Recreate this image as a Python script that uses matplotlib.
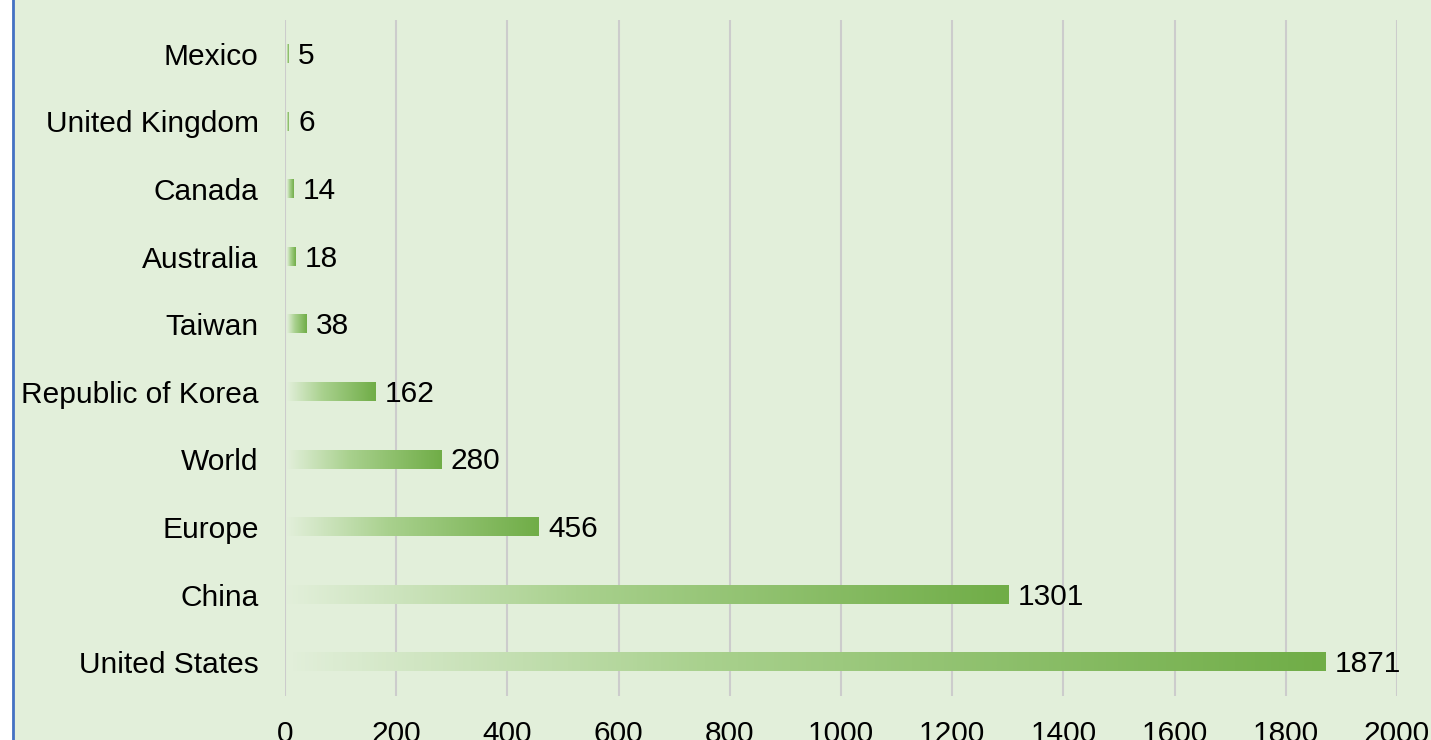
import numpy as np
import matplotlib
matplotlib.use("Agg")
import matplotlib.pyplot as plt
from matplotlib.colors import LinearSegmentedColormap, to_rgb
from matplotlib.patches import Rectangle
from matplotlib.lines import Line2D

countries = ["United States", "China", "Europe", "World", "Republic of Korea",
             "Taiwan", "Australia", "Canada", "United Kingdom", "Mexico"]
values = [1871, 1301, 456, 280, 162, 38, 18, 14, 6, 5]
x_ticks = [0, 200, 400, 600, 800, 1000, 1200, 1400, 1600, 1800, 2000]

bg = "#E2EFDA"
plt.rcParams['font.family'] = ['Liberation Sans', 'DejaVu Sans']
fs = 21.5

fig = plt.figure(figsize=(14.31, 7.40), dpi=100)
fig.patch.set_facecolor(bg)
# white strip and blue edge on the left
fig.patches.append(Rectangle((0, 0), 12 / 1431, 1, transform=fig.transFigure,
                             facecolor="white", edgecolor="none", zorder=-1))
fig.lines.append(Line2D([13 / 1431, 13 / 1431], [0, 1], transform=fig.transFigure,
                        color="#4472C4", lw=2, zorder=5))

ax = fig.add_axes([285 / 1431, 1 - 696 / 740, (1397 - 285) / 1431, (696 - 20) / 740])
ax.set_facecolor("none")

# gradient: transparent -> light green -> excel green
cmap = LinearSegmentedColormap.from_list(
    "grad", [(0, to_rgb(bg)), (0.4, to_rgb("#A9D18E")), (1, to_rgb("#70AD47"))])
grad = np.linspace(0, 1, 256).reshape(1, -1)

y = np.arange(len(countries))
h = 0.27
for yi, v in zip(y, values):
    ax.imshow(grad, cmap=cmap, extent=[3, v, yi - h / 2, yi + h / 2],
              aspect="auto", interpolation="bicubic", zorder=3)
    ax.annotate(str(v), (v, yi), xytext=(7, -1.5), textcoords="offset points",
                va="center", ha="left", fontsize=fs, color="black", zorder=4)

ax.set_xlim(0, 2000)
ax.set_ylim(-0.5, len(countries) - 0.5)
ax.set_xticks(x_ticks)
ax.set_xticklabels([str(t) for t in x_ticks], fontsize=fs)
ax.set_yticks(y)
ax.set_yticklabels(countries, fontsize=fs)
ax.tick_params(axis="x", length=0, pad=17)
ax.tick_params(axis="y", length=0, pad=19)
ax.grid(axis="x", color="#CCCCCC", lw=1.5, zorder=0)
ax.set_axisbelow(True)
for s in ax.spines.values():
    s.set_visible(False)

fig.savefig("out.png", dpi=100, facecolor=bg)
